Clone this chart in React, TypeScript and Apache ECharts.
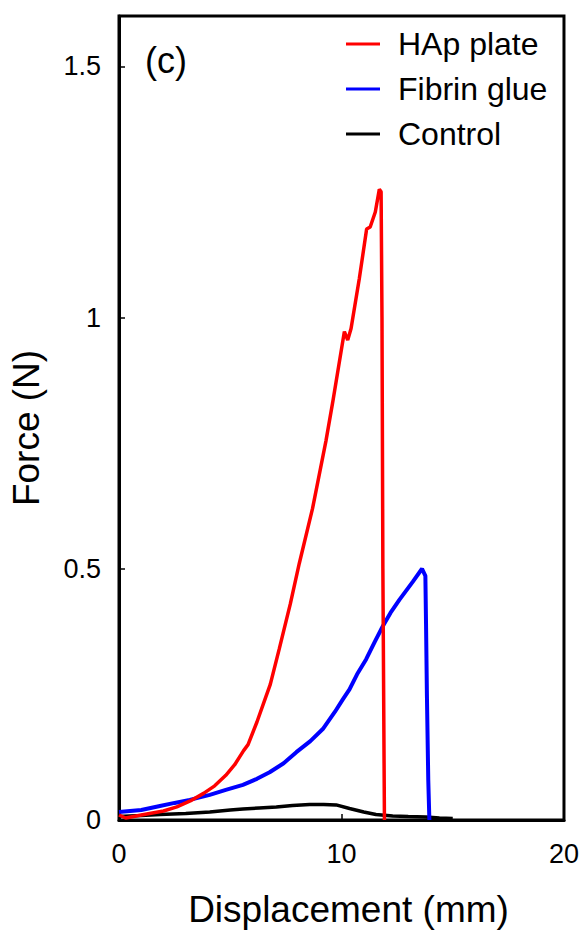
import React, { useEffect, useRef } from "react";
import * as echarts from "echarts";

const hapX = [0, 0.3, 1, 2, 2.6, 3.2, 3.8, 4.3, 4.8, 5.2, 5.6, 5.8, 6.2, 6.6, 6.8, 7.2, 7.7, 8.1, 8.7, 9.3, 9.6, 10.13, 10.28, 10.43, 10.8, 11.13, 11.29, 11.52, 11.7, 11.78, 11.82, 11.86, 11.93];
const hapY = [0.01, 0.004, 0.01, 0.018, 0.026, 0.038, 0.053, 0.068, 0.089, 0.11, 0.138, 0.15, 0.195, 0.245, 0.27, 0.34, 0.43, 0.51, 0.62, 0.754, 0.83, 0.972, 0.955, 0.978, 1.077, 1.176, 1.18, 1.21, 1.255, 1.25, 1.0, 0.5, 0];

const fibX = [0, 1, 1.84, 2.5, 3.18, 4.08, 4.8, 5.57, 6.2, 6.77, 7.4, 7.97, 8.6, 9.16, 9.7, 10.06, 10.36, 10.7, 11.11, 11.5, 11.85, 12.2, 12.6, 13.2, 13.62, 13.77, 13.8, 13.84, 13.9, 13.95];
const fibY = [0.016, 0.02, 0.028, 0.034, 0.04, 0.05, 0.06, 0.07, 0.082, 0.095, 0.113, 0.135, 0.157, 0.181, 0.215, 0.24, 0.26, 0.29, 0.32, 0.355, 0.385, 0.412, 0.438, 0.474, 0.5, 0.486, 0.39, 0.247, 0.08, 0];

const ctrlX = [0, 1, 1.84, 3, 4.08, 5, 5.57, 6.3, 7.07, 7.8, 8.57, 9.2, 9.76, 10.36, 11, 11.55, 12.3, 13, 13.8, 14.4, 15.0];
const ctrlY = [0.007, 0.009, 0.011, 0.013, 0.016, 0.02, 0.022, 0.024, 0.026, 0.029, 0.031, 0.031, 0.03, 0.023, 0.016, 0.011, 0.008, 0.007, 0.006, 0.004, 0.003];

const seriesNames = ["HAp plate", "Fibrin glue", "Control"];
const seriesColors = ["#ff0000", "#0000ff", "#000000"];

const zip = (xs: number[], ys: number[]) => xs.map((x, i) => [x, ys[i]]);

const FONT = "Liberation Sans, Arial, sans-serif";

export default function App() {
  const ref = useRef<HTMLDivElement>(null);
  useEffect(() => {
    if (!ref.current) return;
    const chart = echarts.init(ref.current, undefined, { renderer: "svg" });
    const datasets = [zip(hapX, hapY), zip(fibX, fibY), zip(ctrlX, ctrlY)];
    chart.setOption({
      animation: false,
      backgroundColor: "#ffffff",
      textStyle: { fontFamily: FONT },
      grid: {
        left: 119,
        right: 17,
        top: 16,
        bottom: 108,
        show: true,
        borderColor: "#000",
        borderWidth: 3,
        backgroundColor: "transparent",
      },
      legend: {
        orient: "vertical",
        left: 341,
        top: 23,
        icon: "rect",
        itemWidth: 34,
        itemHeight: 3,
        itemGap: 13,
        data: seriesNames,
        textStyle: { fontSize: 32, color: "#000", fontFamily: FONT, lineHeight: 32, padding: [0, 0, 0, 13] },
      },
      graphic: [
        {
          type: "text",
          left: 145,
          top: 42,
          style: { text: "(c)", fontSize: 36, fill: "#000", fontFamily: FONT },
        },
      ],
      xAxis: {
        type: "value",
        min: 0,
        max: 20,
        interval: 10,
        name: "Displacement (mm)",
        nameLocation: "middle",
        nameGap: 71,
        nameTextStyle: { fontSize: 37, color: "#000", fontFamily: FONT, padding: [0, 0, 0, 14] },
        axisLine: { show: true, lineStyle: { color: "#000", width: 3 } },
        axisTick: { show: true, inside: true, length: 6, lineStyle: { color: "#000", width: 1.5 } },
        axisLabel: { fontSize: 27, color: "#000", margin: 20, fontFamily: FONT },
        splitLine: { show: false },
      },
      yAxis: {
        type: "value",
        min: 0,
        max: 1.6,
        interval: 0.5,
        name: "Force (N)",
        nameLocation: "middle",
        nameRotate: 90,
        nameGap: 74,
        nameTextStyle: { fontSize: 37, color: "#000", fontFamily: FONT, padding: [0, 20, 0, 0] },
        axisLine: { show: true, lineStyle: { color: "#000", width: 3 } },
        axisTick: { show: true, inside: true, length: 6, lineStyle: { color: "#000", width: 1.5 } },
        axisLabel: {
          fontSize: 27,
          color: "#000",
          margin: 18,
          fontFamily: FONT,
          formatter: (v: number) => (Math.abs(v - 1.6) < 1e-6 ? "" : String(v)),
        },
        splitLine: { show: false },
      },
      series: datasets.map((d, i) => ({
        name: seriesNames[i],
        type: "line",
        data: d,
        showSymbol: false,
        symbol: "none",
        smooth: false,
        color: seriesColors[i],
        lineStyle: { color: seriesColors[i], width: i === 1 ? 4 : 3.5 },
        z: 3 - i,
      })),
    });
    return () => chart.dispose();
  }, []);
  return <div ref={ref} style={{ position: "fixed", left: 0, top: 0, width: 582, height: 933 }} />;
}
